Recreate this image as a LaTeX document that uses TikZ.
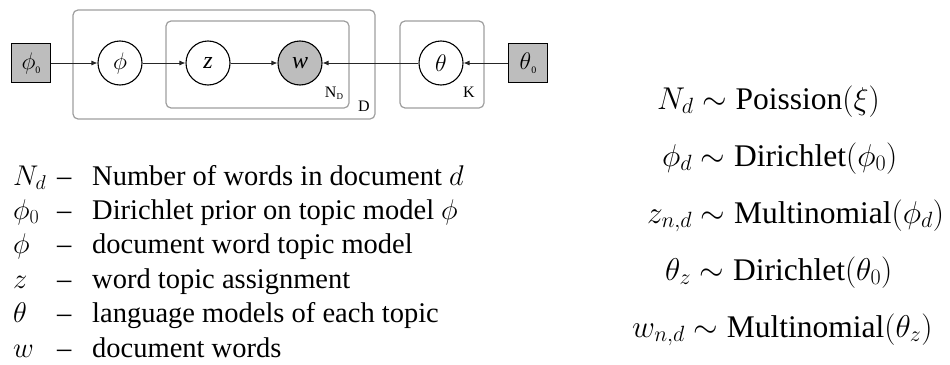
\documentclass[tikz,border=0pt]{standalone}
\usepackage{fix-cm}
\usepackage{fontspec}
\setmainfont{Liberation Serif}
\usetikzlibrary{arrows.meta}
\definecolor{platecol}{HTML}{9E9E9E}
\definecolor{obsfill}{HTML}{BDBDBD}
\tikzset{
  latent/.style={circle, draw=black, line width=1.1pt, fill=white, minimum size=44pt, inner sep=0pt, font=\fontsize{24}{26}\selectfont},
  observed/.style={latent, fill=obsfill},
  prior/.style={rectangle, draw=black, line width=1.1pt, fill=obsfill, minimum size=39pt, inner sep=0pt, font=\fontsize{24}{26}\selectfont},
  plate/.style={rectangle, draw=platecol, line width=1.2pt, rounded corners=5pt, inner sep=0pt},
  platelabel/.style={inner sep=0pt, font=\fontsize{16}{18}\selectfont},
  conn/.style={draw=black!85, line width=0.9pt, -{Latex[length=6pt,width=5pt]}},
  legsym/.style={anchor=base west, inner sep=0pt, font=\fontsize{28.5}{34}\selectfont},
  eqn/.style={anchor=base west, inner sep=0pt, font=\fontsize{31.5}{36}\selectfont},
}
\begin{document}
\begin{tikzpicture}[x=1pt,y=-1pt]
\useasboundingbox (0,0) rectangle (950,364);
% plates
\node[plate, minimum width=302pt, minimum height=109pt] (plateD) at (224,64.5) {};
\node[plate, minimum width=183pt, minimum height=87pt] (plateN) at (257.5,64.5) {};
\node[plate, minimum width=84pt, minimum height=87pt] (plateK) at (442,64.5) {};
\node[platelabel] (labN) at (334,93) {N\raisebox{-2pt}{\fontsize{9}{10}\selectfont D}};
\node[platelabel] (labD) at (364,106) {D};
\node[platelabel] (labK) at (469,92) {K};
% nodes
\node[prior] (phi0) at (31,63) {$\phi$\raisebox{-4pt}{\fontsize{10}{10}\selectfont 0}};
\node[latent] (phi) at (120,63) {$\phi$};
\node[latent] (z) at (208,63) {\itshape z};
\node[observed] (w) at (300,63) {\itshape w};
\node[latent] (theta) at (441,63) {$\theta$};
\node[prior] (theta0) at (528,63) {$\theta$\raisebox{-4pt}{\fontsize{10}{10}\selectfont 0}};
% connectors
\draw[conn] (phi0) -- (phi);
\draw[conn] (phi) -- (z);
\draw[conn] (z) -- (w);
\draw[conn] (theta) -- (w);
\draw[conn] (theta0) -- (theta);
% legend
\node[legsym] (s1) at (13,185) {$N_d$};
\node[legsym] (d1) at (57,185) {–};
\node[legsym] (t1) at (92,185) {Number of words in document $d$};
\node[legsym] (s2) at (13,219.4) {$\phi_0$};
\node[legsym] (d2) at (57,219.4) {–};
\node[legsym] (t2) at (92,219.4) {Dirichlet prior on topic model $\phi$};
\node[legsym] (s3) at (13,253.8) {$\phi$};
\node[legsym] (d3) at (57,253.8) {–};
\node[legsym] (t3) at (92,253.8) {document word topic model};
\node[legsym] (s4) at (13,288.2) {$z$};
\node[legsym] (d4) at (57,288.2) {–};
\node[legsym] (t4) at (92,288.2) {word topic assignment};
\node[legsym] (s5) at (13,322.6) {$\theta$};
\node[legsym] (d5) at (57,322.6) {–};
\node[legsym] (t5) at (92,322.6) {language models of each topic};
\node[legsym] (s6) at (13,357) {$w$};
\node[legsym] (d6) at (57,357) {–};
\node[legsym] (t6) at (92,357) {document words};
% equations
\node[eqn] (e1) at (657,109) {$N_d \sim \mbox{Poission}(\xi)$};
\node[eqn] (e2) at (662,166) {$\phi_d \sim \mbox{Dirichlet}(\phi_0)$};
\node[eqn] (e3) at (647,223) {$z_{n,d} \sim \mbox{Multinomial}(\phi_d)$};
\node[eqn] (e4) at (665,280) {$\theta_z \sim \mbox{Dirichlet}(\theta_0)$};
\node[eqn] (e5) at (632,337) {$w_{n,d} \sim \mbox{Multinomial}(\theta_z)$};
\end{tikzpicture}
\end{document}
